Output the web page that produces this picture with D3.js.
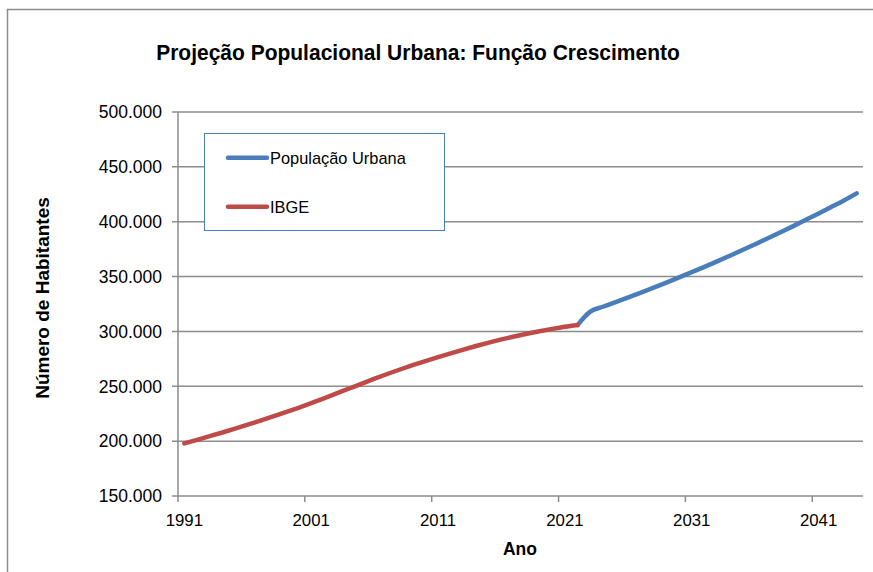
<!DOCTYPE html>
<html><head><meta charset="utf-8">
<script src="https://cdn.jsdelivr.net/npm/d3@7"></script>
<style>body{margin:0;background:#fff}svg{display:block}text{font-family:"Liberation Sans",Arial,sans-serif;fill:#000}</style>
</head><body>
<script>
// Data
const years = d3.range(1991, 2045); // category axis 1991..2044
const ibgeYears = d3.range(1991, 2023);
const ibgeValues = [198000,201200,204500,207900,211400,215000,218700,222500,226400,230400,
  234600,239000,243500,248000,252500,256900,261200,265300,269200,272900,
  276500,280000,283400,286700,289800,292700,295400,297900,300200,302300,304200,305800];
const urbYears = d3.range(2022, 2045);
const urbValues = [305800,318000,322500,326700,331000,335400,339900,344500,349200,354000,358900,
  363900,369000,374200,379500,384900,390400,396000,401700,407500,413400,419400,425800];
const yTicks = [150000,200000,250000,300000,350000,400000,450000,500000];
const xTickYears = [1991,2001,2011,2021,2031,2041];
const seriesNames = ["População Urbana","IBGE"];
const seriesColors = ["#4a7ebb","#be4b48"];

const W=873,H=572;
const svg=d3.select("body").append("svg").attr("width",W).attr("height",H);
const pl=178, pr=863, pt=112, pb=496;
const x=d3.scaleBand().domain(years).range([pl,pr]).padding(0);
const cx=d=>x(d)+x.bandwidth()/2;
const y=d3.scaleLinear().domain([150000,500000]).range([pb,pt]);
const loc=d3.formatLocale({decimal:",",thousands:".",grouping:[3],currency:["R$",""]});
const fmt=loc.format(",.0f");

// outer border
svg.append("line").attr("x1",7).attr("x2",W).attr("y1",9.5).attr("y2",9.5).attr("stroke","#8c8c8c").attr("stroke-width",1.5);
svg.append("line").attr("x1",7.5).attr("x2",7.5).attr("y1",9).attr("y2",H).attr("stroke","#8c8c8c").attr("stroke-width",1.5);

// gridlines
svg.append("g").selectAll("line").data(yTicks).join("line")
  .attr("x1",pl-6).attr("x2",pr).attr("y1",d=>y(d)).attr("y2",d=>y(d))
  .attr("stroke","#8c8c8c").attr("stroke-width",1.5);
// y axis line
svg.append("line").attr("x1",pl).attr("x2",pl).attr("y1",pt).attr("y2",pb).attr("stroke","#8c8c8c").attr("stroke-width",1.5);
// y labels
svg.append("g").selectAll("text").data(yTicks).join("text")
  .attr("x",162).attr("y",d=>y(d)).attr("dy","0.36em").attr("text-anchor","end")
  .style("font-size","17.5px").text(d=>fmt(d));
// x ticks
svg.append("g").selectAll("line").data(xTickYears).join("line")
  .attr("x1",d=>x(d)).attr("x2",d=>x(d)).attr("y1",pb).attr("y2",pb+6)
  .attr("stroke","#8c8c8c").attr("stroke-width",1.5);
svg.append("g").selectAll("text").data(xTickYears).join("text")
  .attr("x",d=>cx(d)).attr("y",526).attr("text-anchor","middle")
  .style("font-size","16.8px").text(d=>d);

// lines
const line=d3.line().x(d=>cx(d[0])).y(d=>y(d[1])).curve(d3.curveMonotoneX);
svg.append("path").datum(urbYears.map((d,i)=>[d,urbValues[i]])).attr("d",line)
  .attr("fill","none").attr("stroke",seriesColors[0]).attr("stroke-width",4.5).attr("stroke-linecap","round").attr("stroke-linejoin","round");
svg.append("path").datum(ibgeYears.map((d,i)=>[d,ibgeValues[i]])).attr("d",line)
  .attr("fill","none").attr("stroke",seriesColors[1]).attr("stroke-width",4.5).attr("stroke-linecap","round").attr("stroke-linejoin","round");

// title
svg.append("text").attr("transform","translate(418,60) scale(1,1.08)").attr("text-anchor","middle")
  .style("font-size","21px").style("font-weight","bold").text("Projeção Populacional Urbana: Função Crescimento");
// axis titles
svg.append("text").attr("x",520).attr("y",555).attr("text-anchor","middle")
  .style("font-size","17.5px").style("font-weight","bold").text("Ano");
svg.append("text").attr("transform","translate(49,298) rotate(-90)").attr("text-anchor","middle")
  .style("font-size","19px").style("font-weight","bold").text("Número de Habitantes");

// legend
svg.append("rect").attr("x",204.5).attr("y",133.5).attr("width",240).attr("height",97)
  .attr("fill","#fff").attr("stroke","#4a7ebb").attr("stroke-width",1);
const lg=svg.append("g").selectAll("g").data(seriesNames).join("g")
  .attr("transform",(d,i)=>`translate(0,${157.7+i*49})`);
lg.append("line").attr("x1",228).attr("x2",267).attr("stroke",(d,i)=>seriesColors[i]).attr("stroke-width",4.5).attr("stroke-linecap","round");
lg.append("text").attr("x",270).attr("dy","0.36em").style("font-size","16.4px").text(d=>d);
</script>
</body></html>
